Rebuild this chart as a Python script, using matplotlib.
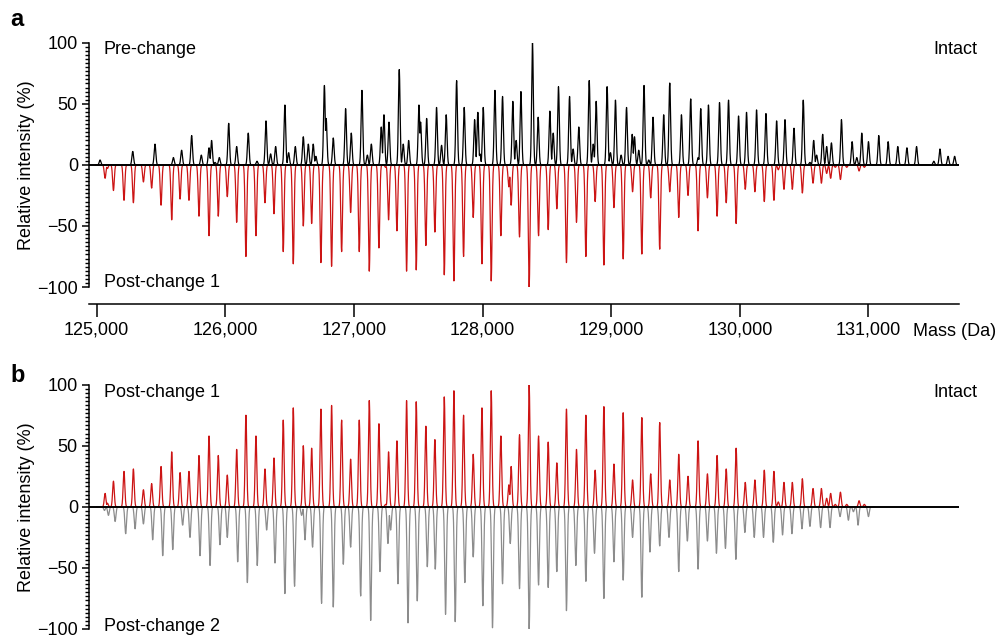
import numpy as np
import matplotlib
matplotlib.use("Agg")
import matplotlib.pyplot as plt
from matplotlib.ticker import MultipleLocator, FuncFormatter

plt.rcParams['font.family'] = ['Liberation Sans', 'DejaVu Sans']

# peak lists (mass in Da, relative intensity in %)
pre_mass = [125026, 125280, 125453, 125596, 125660, 125738, 125813, 125873, 125893, 125920,
            125953, 126026, 126088, 126178, 126246, 126316, 126352, 126391, 126463, 126492,
            126544, 126606, 126645, 126683, 126704, 126770, 126784, 126839, 126935, 126979,
            127062, 127104, 127135, 127212, 127233, 127272, 127352, 127383, 127425, 127505,
            127518, 127565, 127642, 127681, 127717, 127798, 127857, 127938, 127963, 127979,
            128005, 128096, 128155, 128235, 128261, 128298, 128388, 128432, 128523, 128549,
            128590, 128676, 128704, 128748, 128829, 128860, 128883, 128968, 128994, 129033,
            129077, 129119, 129163, 129181, 129214, 129255, 129292, 129325, 129408, 129455,
            129546, 129618, 129676, 129696, 129756, 129842, 129912, 129990, 130052, 130130,
            130203, 130286, 130351, 130421, 130493, 130545, 130574, 130597, 130644, 130675,
            130712, 130790, 130873, 130909, 130948, 131000, 131080, 131153, 131228, 131299,
            131374, 131508, 131556, 131619, 131670]
pre_int = [4, 11, 17, 6, 12, 24, 8, 14, 20, 2,
           6, 34, 15, 26, 3, 36, 9, 15, 49, 10,
           15, 23, 17, 17, 7, 65, 38, 22, 46, 26,
           61, 8, 17, 31, 41, 35, 78, 17, 20, 49,
           35, 38, 47, 16, 41, 69, 47, 37, 43, 9,
           47, 61, 56, 52, 20, 60, 100, 39, 44, 26,
           64, 56, 13, 31, 69, 17, 52, 64, 10, 53,
           8, 47, 25, 23, 12, 65, 4, 39, 41, 67,
           41, 54, 6, 46, 49, 51, 53, 40, 43, 45,
           42, 36, 37, 30, 53, 2, 20, 8, 25, 15,
           18, 37, 19, 6, 26, 19, 24, 19, 15, 14,
           15, 3, 13, 7, 7]

post1_mass = [125065, 125083, 125130, 125212, 125285, 125363, 125427, 125500, 125583, 125648,
              125717, 125795, 125873, 125945, 126015, 126088, 126160, 126238, 126308, 126378,
              126450, 126528, 126606, 126671, 126743, 126826, 126904, 126974, 127041, 127119,
              127194, 127246, 127269, 127334, 127409, 127484, 127559, 127629, 127702, 127777,
              127852, 127927, 127995, 128067, 128142, 128204, 128222, 128287, 128362, 128435,
              128510, 128577, 128652, 128730, 128803, 128875, 128943, 129021, 129093, 129166,
              129238, 129307, 129377, 129455, 129525, 129597, 129675, 129748, 129823, 129894,
              129971, 130042, 130117, 130190, 130265, 130299, 130343, 130408, 130486, 130569,
              130634, 130675, 130706, 130742, 130782, 130831, 130927, 130968]
post1_int = [11, 3, 21, 29, 31, 14, 19, 33, 45, 28,
             29, 42, 58, 42, 26, 47, 75, 58, 31, 40,
             71, 81, 50, 48, 80, 83, 71, 39, 71, 87,
             68, 2, 45, 54, 87, 86, 66, 55, 90, 95,
             75, 43, 81, 95, 58, 18, 33, 59, 100, 58,
             53, 36, 80, 47, 75, 30, 82, 35, 77, 22,
             73, 27, 69, 22, 43, 25, 54, 27, 42, 31,
             48, 20, 22, 30, 29, 4, 20, 20, 23, 15,
             15, 7, 11, 2, 12, 2, 5, 2]

post2_mass = [125060, 125091, 125143, 125225, 125298, 125363, 125435, 125513, 125591, 125668,
              125725, 125803, 125881, 125958, 126015, 126096, 126171, 126248, 126321, 126386,
              126463, 126538, 126593, 126619, 126678, 126748, 126839, 126917, 126974, 127052,
              127130, 127202, 127264, 127285, 127342, 127420, 127492, 127570, 127632, 127712,
              127787, 127862, 127927, 128002, 128077, 128155, 128215, 128287, 128362, 128435,
              128510, 128577, 128652, 128725, 128803, 128870, 128943, 129021, 129093, 129166,
              129238, 129301, 129377, 129449, 129525, 129592, 129675, 129748, 129818, 129888,
              129969, 130039, 130112, 130184, 130260, 130332, 130405, 130483, 130545, 130628,
              130701, 130779, 130844, 130883, 130919, 131000]
post2_int = [3, 7, 12, 22, 18, 14, 27, 40, 35, 15,
             25, 40, 48, 31, 25, 45, 62, 48, 19, 46,
             71, 65, 7, 27, 33, 79, 82, 47, 33, 73,
             93, 53, 30, 19, 63, 95, 77, 49, 51, 88,
             94, 62, 41, 81, 99, 63, 30, 67, 100, 64,
             66, 53, 85, 48, 61, 38, 75, 45, 60, 25,
             74, 37, 32, 25, 53, 28, 51, 28, 38, 34,
             43, 21, 25, 25, 29, 23, 22, 18, 16, 17,
             17, 8, 11, 4, 15, 8]

x_ticks = [125000, 126000, 127000, 128000, 129000, 130000, 131000]

RED = '#cc1414'
GREY = '#8c8c8c'
PEAK_SIGMA = 6.5  # Da, drawn peak width


def profile(masses, heights, lo, hi):
    # turn a stick list into a drawn trace
    grid = np.arange(lo, hi, 1.0)
    m = np.asarray(masses, float)[:, None]
    h = np.asarray(heights, float)[:, None]
    y = (h * np.exp(-0.5 * ((grid[None, :] - m) / PEAK_SIGMA) ** 2)).max(axis=0)
    return grid, y


def style_axes(ax, show_x=True):
    ax.set_xlim(124940, 131705)
    ax.set_ylim(-100, 100)
    for s in ['top', 'right']:
        ax.spines[s].set_visible(False)
    ax.spines['bottom'].set_position(('outward', 12))
    ax.spines['left'].set_linewidth(1.1)
    ax.spines['bottom'].set_linewidth(1.1)
    ax.set_xticks(x_ticks)
    ax.xaxis.set_major_formatter(FuncFormatter(lambda v, p: '{:,.0f}'.format(v)))
    ax.set_yticks([-100, -50, 0, 50, 100])
    ax.set_yticklabels(['\u2212100', '\u221250', '0', '50', '100'])
    ax.yaxis.set_minor_locator(MultipleLocator(50 / 15))
    ax.tick_params(axis='x', direction='out', length=9, width=1.1, labelsize=13, pad=4)
    ax.tick_params(axis='y', which='major', direction='out', length=5, width=1.1, labelsize=13, pad=3)
    ax.tick_params(axis='y', which='minor', direction='out', length=3, width=1.0)
    if not show_x:
        # the lower panel's mass axis lies below the visible area
        ax.tick_params(axis='x', labelbottom=False)
    ax.axhline(0, color='black', lw=1.4, zorder=5)
    ax.set_ylabel('Relative intensity (%)', fontsize=13)
    ax.yaxis.set_label_coords(-0.062, 0.5)


fig = plt.figure(figsize=(9.99, 6.35), dpi=100)
ax_a = fig.add_axes([0.0891, 0.548, 0.871, 0.3847])
ax_b = fig.add_axes([0.0891, 0.0095, 0.871, 0.3847])

# panel a: pre-change (up) vs post-change 1 (mirrored)
gx, gy = profile(pre_mass, pre_int, 124990, 131700)
ax_a.plot(gx, gy, color='black', lw=0.9)
gx, gy = profile(post1_mass, post1_int, 125000, 130990)
ax_a.plot(gx, -gy, color=RED, lw=0.9)
style_axes(ax_a)
ax_a.text(0.017, 0.974, 'Pre-change', transform=ax_a.transAxes, fontsize=13, va='center')
ax_a.text(0.017, 0.018, 'Post-change 1', transform=ax_a.transAxes, fontsize=13, va='center')
ax_a.text(1.021, 0.972, 'Intact', transform=ax_a.transAxes, fontsize=13, va='center', ha='right')
fig.text(913 / 999, 1 - 331 / 635, 'Mass (Da)', fontsize=13, va='center', ha='left')

# panel b: post-change 1 (up) vs post-change 2 (mirrored)
gx, gy = profile(post1_mass, post1_int, 125000, 130990)
ax_b.plot(gx, gy, color=RED, lw=0.9)
gx, gy = profile(post2_mass, post2_int, 125000, 131050)
ax_b.plot(gx, -gy, color=GREY, lw=0.9)
style_axes(ax_b, show_x=False)
ax_b.text(0.017, 0.97, 'Post-change 1', transform=ax_b.transAxes, fontsize=13, va='center')
ax_b.text(0.017, 0.012, 'Post-change 2', transform=ax_b.transAxes, fontsize=13, va='center')
ax_b.text(1.021, 0.97, 'Intact', transform=ax_b.transAxes, fontsize=13, va='center', ha='right')

fig.text(10 / 999, 1 - 20 / 635, 'a', fontsize=17, fontweight='bold', va='center', ha='left')
fig.text(10 / 999, 1 - 376 / 635, 'b', fontsize=17, fontweight='bold', va='center', ha='left')

fig.savefig('out.png', dpi=100)
